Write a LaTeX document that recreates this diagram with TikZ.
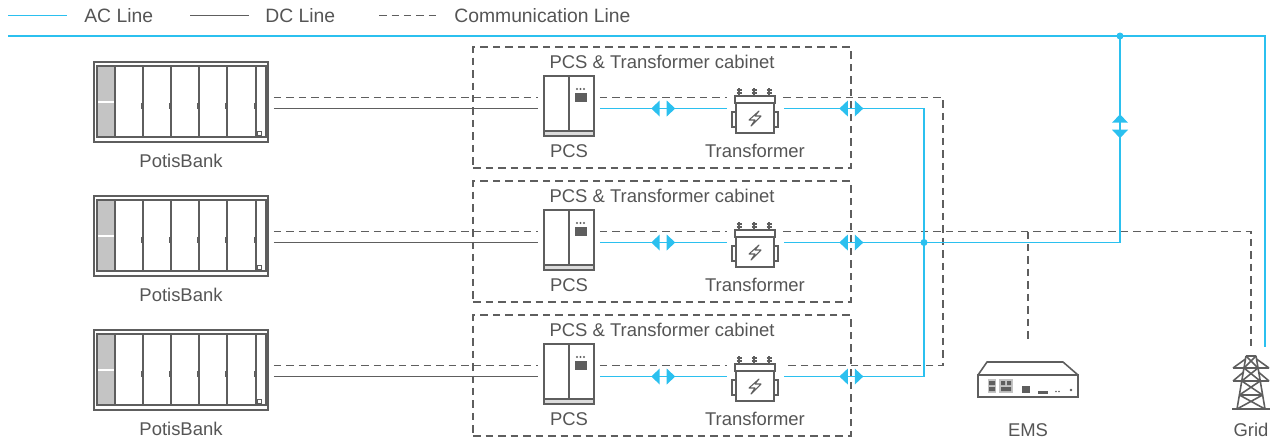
\documentclass[tikz,border=0pt]{standalone}
\usepackage{fontspec}
\setmainfont{Liberation Sans}
\usetikzlibrary{positioning}
\usetikzlibrary{decorations.markings}
\definecolor{acblue}{HTML}{2BC0EF}
\definecolor{dcgray}{HTML}{5E5E5E}
\definecolor{txtgray}{HTML}{555555}
\definecolor{fillgray}{HTML}{C4C4C4}
\newcommand{\pairmark}{%
  \fill [acblue] (0.07cm, -0.16cm) -- (0.24cm, 0cm) -- (0.07cm, 0.16cm) -- cycle;
  \fill [acblue] (-0.07cm, -0.16cm) -- (-0.24cm, 0cm) -- (-0.07cm, 0.16cm) -- cycle;}
\tikzset{acline/.style = {draw=acblue, line width=1pt},
         dcline/.style = {draw=dcgray, line width=1pt},
         comline/.style = {draw=dcgray, line width=0.9pt, dash pattern=on 0.15cm off 0.1cm},
         cabinet/.style = {comline, minimum width=7.56cm, minimum height=2.42cm, inner sep=0pt},
         iconline/.style = {draw=dcgray, line width=0.9pt},
         icon/.style = {iconline, inner sep=0pt},
         spot/.style = {inner sep=0pt},
         conn/.style = {shorten <=0.1cm, shorten >=0.1cm},
         twoway/.style = {postaction={decorate, decoration={markings,
                                      mark=at position #1 with {\pairmark}}}},
         txt/.style = {text=txtgray, font=\fontsize{10.5}{12}\selectfont, inner sep=0pt},
         legtxt/.style = {text=txtgray, font=\fontsize{11}{13}\selectfont, inner sep=0pt}}

\begin{document}
\begin{tikzpicture}[x=0.02cm, y=-0.02cm]
    \useasboundingbox (0, 0) rectangle (1275, 443);
    % legend
    \draw [acline] (8, 15.5) -- (67, 15.5) coordinate (legac);
    \node [legtxt, right=0.34cm of legac] (legactxt) {AC Line};
    \draw [dcline] (190, 15.5) -- (249, 15.5) coordinate (legdc);
    \node [legtxt, right=0.32cm of legdc] (legdctxt) {DC Line};
    \draw [comline] (379, 15.5) -- (439, 15.5) coordinate (legcom);
    \node [legtxt, right=0.3cm of legcom] (legcomtxt) {Communication Line};

    \foreach \r/\dy in {1/0, 2/134, 3/268} {
      \begin{scope}[shift={(0, \dy)}]
        \coordinate (com\r) at (0, 97.5);
        \coordinate (pow\r) at (0, 108.5);
        \node [cabinet] (cab\r) at (662, 107.5) {};
        \node [txt, anchor=base] (cabtitle\r) at ([yshift=-0.44cm]cab\r.north) {PCS \& Transformer cabinet};
        % battery bank
        \fill [fillgray] (97, 66) rectangle (114, 137);
        \draw [white, line width=1pt] (97, 102) -- (114, 102);
        \draw [iconline] (97, 66) rectangle (266, 137);
        \foreach \xd in {115, 143, 171, 199, 227, 256}
          \draw [iconline] (\xd, 66) -- (\xd, 137);
        \foreach \xd in {143, 171, 199, 227, 256}
          \fill [dcgray] (\xd - 2.5, 103) rectangle (\xd, 109);
        \draw [iconline, line width=0.5pt] (257, 131) rectangle (261, 135);
        \node [icon, minimum width=3.48cm, minimum height=1.6cm] (bank\r) at (181, 102) {};
        \node [txt, anchor=base] (banklabel\r) at ([yshift=-0.5cm]bank\r.south) {PotisBank};
        % pcs
        \fill [fillgray!60] (544, 131) rectangle (594, 136);
        \draw [iconline] (544, 131) -- (594, 131);
        \draw [iconline] (569, 76) -- (569, 131);
        \fill [dcgray] (575, 93) rectangle (587, 102);
        \foreach \xd in {577, 580.5, 584}
          \fill [dcgray] (\xd, 89) circle (0.022cm);
        \node [icon, minimum width=1cm, minimum height=1.2cm] (pcs\r) at (569, 106) {};
        \node [txt, anchor=base] (pcslabel\r) at ([yshift=-0.42cm]pcs\r.south) {PCS};
        % transformer
        \foreach \xd in {739, 754, 769} {
          \draw [iconline, line width=0.6pt] (\xd, 88) -- (\xd, 96);
          \draw [iconline, line width=0.6pt] (\xd - 2.5, 90) -- (\xd + 2.5, 90) (\xd - 2.5, 93) -- (\xd + 2.5, 93);
        }
        \draw [iconline] (735, 96) rectangle (775, 103);
        \draw [iconline] (736, 103) rectangle (774, 133);
        \draw [iconline] (732, 112) rectangle (736, 127);
        \draw [iconline] (774, 112) rectangle (778, 127);
        \draw [iconline, line width=0.6pt, line join=round] (759, 111) -- (749, 120) -- (755, 120) -- (751, 126) -- (761, 116) -- (755, 116) -- cycle;
        \node [spot, minimum width=0.92cm, minimum height=0.9cm] (tr\r) at (755, 108.5) {};
        \node [txt, anchor=base] (trlabel\r) at ([yshift=-0.52cm]tr\r.south) {Transformer};
      \end{scope}
    }

    % ems
    \draw [iconline, line join=round] (987, 362) -- (1063, 362) -- (1078, 375) -- (978, 375) -- cycle;
    \draw [iconline] (978, 375) rectangle (1078, 397);
    \fill [fillgray] (988, 379) rectangle (996, 393);
    \fill [fillgray] (999, 379) rectangle (1013, 393);
    \fill [dcgray] (989, 381) rectangle (995, 385) (989, 387) rectangle (995, 391);
    \fill [dcgray] (1001, 381) rectangle (1005, 385) (1007, 381) rectangle (1011, 385) (1001, 387) rectangle (1011, 391);
    \fill [dcgray] (1022, 386) rectangle (1030, 393);
    \fill [dcgray] (1038, 391) rectangle (1048, 393.5);
    \fill [dcgray] (1056, 391.5) circle (0.016cm) (1059, 391.5) circle (0.016cm);
    \fill [dcgray] (1071, 390) circle (0.028cm);
    \node [spot, minimum width=2cm, minimum height=0.7cm] (ems) at (1028, 379.5) {};
    \node [txt, anchor=base] (emslabel) at ([yshift=-0.78cm]ems.south) {EMS};

    % grid tower
    \begin{scope}[shift={(1251, 0)}, iconline, line join=round]
      \draw (-5, 356) -- (-14, 409) (5, 356) -- (14, 409) (-5, 356) -- (5, 356);
      \draw (-19, 409) -- (19, 409);
      \draw (-18, 368) -- (18, 368) (-18, 368) -- (-5.5, 359) (18, 368) -- (5.5, 359);
      \draw (-18, 381) -- (18, 381) (-18, 381) -- (-7.4, 372) (18, 381) -- (7.4, 372);
      \draw (-9.8, 395) -- (9.8, 395);
      \draw (-5, 356) -- (7, 368) (5, 356) -- (-7, 368);
      \draw (-7, 368) -- (9.2, 381) (7, 368) -- (-9.2, 381);
      \draw (-9.2, 381) -- (11.6, 395) (9.2, 381) -- (-11.6, 395);
      \draw (-11.6, 395) -- (14, 409) (11.6, 395) -- (-14, 409);
    \end{scope}
    \node [spot, minimum width=0.76cm, minimum height=1.08cm] (grid) at (1251, 382.5) {};
    \node [txt, anchor=base] (gridlabel) at ([yshift=-0.53cm]grid.south) {Grid};

    \coordinate (acstart) at (8, 36);
    \coordinate (busjoin) at (1120, 36);
    \coordinate (acjoin) at (924, 242.5);
    \coordinate (gridac) at (1265, 347);
    \coordinate (gridcom) at (1251, 347);
    \coordinate (comturn) at (943, 365.5);
    \coordinate (emsend) at (1028, 343);

    \foreach \r in {1, 2, 3} {
      \draw [dcline, conn] (bank\r.east |- pow\r) -- (pcs\r.west |- pow\r);
      \draw [comline, conn] (bank\r.east |- com\r) -- (pcs\r.west |- com\r);
      \draw [comline, conn] (pcs\r.east |- com\r) -- (tr\r.west |- com\r);
      \draw [acline, conn, twoway=0.5] (pcs\r.east |- pow\r) -- (tr\r.west);
    }
    \draw [comline, conn] (tr1.east |- com1) -| (comturn) -- (tr3.east |- com3);
    \draw [comline, shorten <=0.1cm] (tr2.east |- com2) -| (gridcom);
    \draw [comline] (ems.north |- com2) -- (emsend);

    \draw [acline] (acstart) -| (gridac);
    \draw [acline, shorten <=0.12cm, twoway=1.46cm] (tr1.east) -| (acjoin);
    \draw [acline, shorten <=0.12cm, twoway=1.46cm] (tr3.east) -| (acjoin);
    \draw [acline, shorten <=0.12cm, twoway=1.46cm, twoway=9.16cm] (tr2.east) -| (busjoin);
    \fill [acblue] (acjoin) circle (0.07cm);
    \fill [acblue] (busjoin) circle (0.07cm);
  \end{tikzpicture}
\end{document}
